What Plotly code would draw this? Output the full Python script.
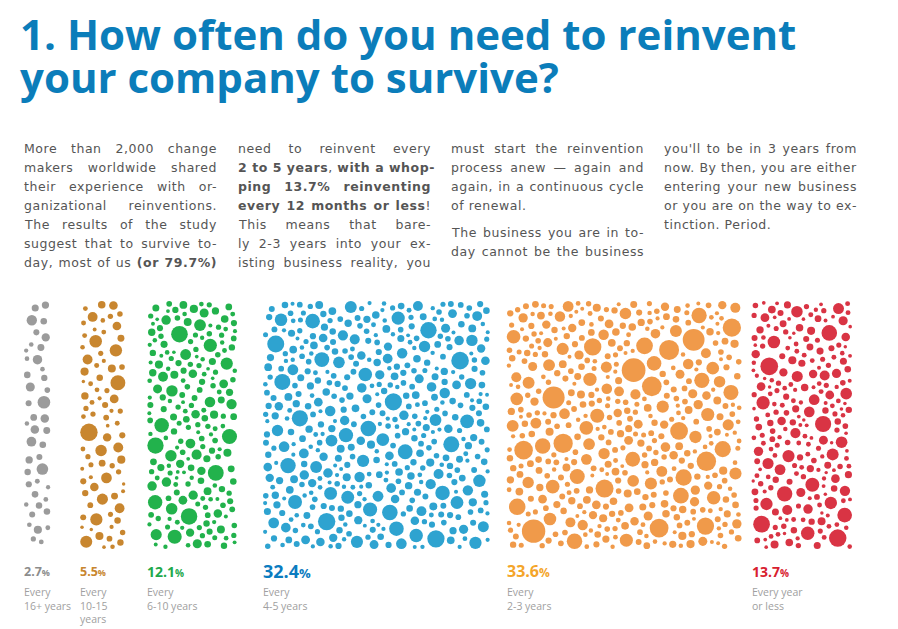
import json
import numpy as np
import plotly.graph_objects as go

shares = [2.7, 5.5, 12.1, 32.4, 33.6, 13.7]
share_labels = ['2.7', '5.5', '12.1', '32.4', '33.6', '13.7']
periods = ['Every<br>16+ years', 'Every<br>10-15<br>years', 'Every<br>6-10 years',
           'Every<br>4-5 years', 'Every<br>2-3 years', 'Every year<br>or less']

# styling / layout (pixel space, y grows downward)
dot_colors = ['#9b9b9b', '#c8862f', '#22b24c', '#2ea3d0', '#f09a4a', '#d93444']
label_colors = ['#8c8c8c', '#c8862f', '#22a84a', '#0b7cc0', '#f4a52a', '#d8202e']
label_sizes = [12.5, 12.5, 14, 18, 16, 14]
gaps = [25, 32, 24, 28, 19, 12]
min_r = [3.0, 2.4, 2.6, 2.8, 2.8, 2.4]
max_r = [7.5, 10, 9, 9, 12.5, 10]
density = [0.45, 0.6, 0.85, 0.85, 0.85, 0.85]
px_per_pct, pad = 6.75, 6
top, bottom = 302, 548

title_lines = ['1. How often do you need to reinvent', 'your company to survive?']
body_cols = [
    ['More than 2,000 change', 'makers worldwide shared', 'their experience with or-',
     'ganizational reinventions.', 'The results of the study',
     'suggest that to survive to-', 'day, most of us <b>(or 79.7%)</b>'],
    ['need to reinvent every', '<b>2 to 5 years</b>, <b>with a whop-</b>',
     '<b>ping 13.7% reinventing</b>', '<b>every 12 months or less</b>!',
     'This means that bare-', 'ly 2-3 years into your ex-', 'isting business reality, you'],
    ['must start the reinvention', 'process anew — again and',
     'again, in a continuous cycle', 'of renewal.', None,
     'The business you are in to-', 'day cannot be the business'],
    ['you\'ll to be in 3 years from', 'now. By then, you are either',
     'entering your new business', 'or you are on the way to ex-', 'tinction. Period.'],
]
para_end = {'of renewal.', 'tinction. Period.'}
body_x = [22, 236, 449, 662]
col_w = 193


def halton(i, b):
    f, r = 1.0, 0.0
    while i > 0:
        f /= b
        r += f * (i % b)
        i //= b
    return r


def pack(x0, x1, y0, y1, rmin, rmax, dens, offset):
    # greedy fill of a column box with non-overlapping circles
    xs, ys, rs = [], [], []
    area = (x1 - x0) * (y1 - y0)
    n_try = int(area / 9 * dens)
    gap = 2.4 if dens >= 0.8 else 3.5
    for n in range(offset, offset + n_try):
        cx = x0 + halton(n, 2) * (x1 - x0)
        cy = y0 + halton(n, 3) * (y1 - y0)
        want = rmin + (rmax - rmin) * halton(n, 5) ** 2.2
        room = min(cx - x0, x1 - cx, cy - y0, y1 - cy) + 1
        if xs:
            d = np.hypot(np.array(xs) - cx, np.array(ys) - cy) - np.array(rs) - gap
            room = min(room, d.min())
        if room < rmin * 0.7:
            continue
        r = min(want, room)
        xs.append(cx)
        ys.append(cy)
        rs.append(r)
    return xs, ys, rs


fig = go.Figure()

left = 0
for i, s in enumerate(shares):
    left += gaps[i] if i == 0 else gaps[i] + (px_per_pct * shares[i - 1] + pad)
    w = px_per_pct * s + pad
    xs, ys, rs = pack(left, left + w, top, bottom, min_r[i], max_r[i], density[i], 17 + i * 5000)
    fig.add_trace(go.Scatter(
        x=xs, y=ys, mode='markers', hoverinfo='skip', showlegend=False,
        marker=dict(size=[2 * r for r in rs], color=dot_colors[i], opacity=1, line_width=0),
    ))
    fig.add_annotation(
        x=left - 3, y=571, xanchor='left', yanchor='middle', showarrow=False,
        text=f'<b>{share_labels[i]}<span style="font-size:{int(label_sizes[i] * 0.75)}px">%</span></b>',
        font=dict(family='Open Sans', size=label_sizes[i], color=label_colors[i]),
    )
    fig.add_annotation(
        x=left - 3, y=583, xanchor='left', yanchor='top', showarrow=False, align='left',
        text=periods[i], font=dict(family='Open Sans', size=10.5, color='#a0a0a0'),
    )

for ty, line in zip([33, 76], title_lines):
    fig.add_annotation(
        x=18, y=ty, xanchor='left', yanchor='middle', showarrow=False,
        text=f'<b>{line}</b>', font=dict(family='Open Sans', size=42, color='#0b7dba'),
    )

justify = []
for cx, lines in zip(body_x, body_cols):
    y = 148
    for ln in lines:
        if ln is None:
            y += 8
            continue
        if ln not in para_end:
            justify.append(len(fig.layout.annotations))
        fig.add_annotation(
            x=cx, y=y, xanchor='left', yanchor='middle', showarrow=False,
            text=f'<span style="letter-spacing:0.55px">{ln}</span>',
            font=dict(family='DejaVu Sans', size=12.5, color='#555555'),
        )
        y += 19

fig.update_layout(
    width=898, height=629, autosize=False,
    margin=dict(l=0, r=0, t=0, b=0),
    paper_bgcolor='white', plot_bgcolor='white',
    xaxis=dict(range=[0, 898], visible=False, fixedrange=True),
    yaxis=dict(range=[629, 0], visible=False, fixedrange=True),
)

# stretch the word gaps so paragraph lines are justified like the print layout,
# keeping each line's left edge where it was
js = """
document.body.style.margin = '0';
var J = %s, W = %d;
document.querySelectorAll('g.annotation').forEach(function (g) {
  if (J.indexOf(+g.getAttribute('data-index')) < 0) return;
  var t = g.querySelector('text.annotation-text');
  if (!t) return;
  var n = (t.textContent.match(/ /g) || []).length;
  if (!n) return;
  var b0 = t.getBBox();
  t.style.wordSpacing = Math.max(0, (W - b0.width) / n) + 'px';
  var b1 = t.getBBox();
  var tr = t.getAttribute('transform') || '';
  t.setAttribute('transform', tr + ' translate(' + (b0.x - b1.x) + ',0)');
});
""" % (json.dumps(justify), col_w)

fig.write_html("out.html", config={'displayModeBar': False}, post_script=js)
